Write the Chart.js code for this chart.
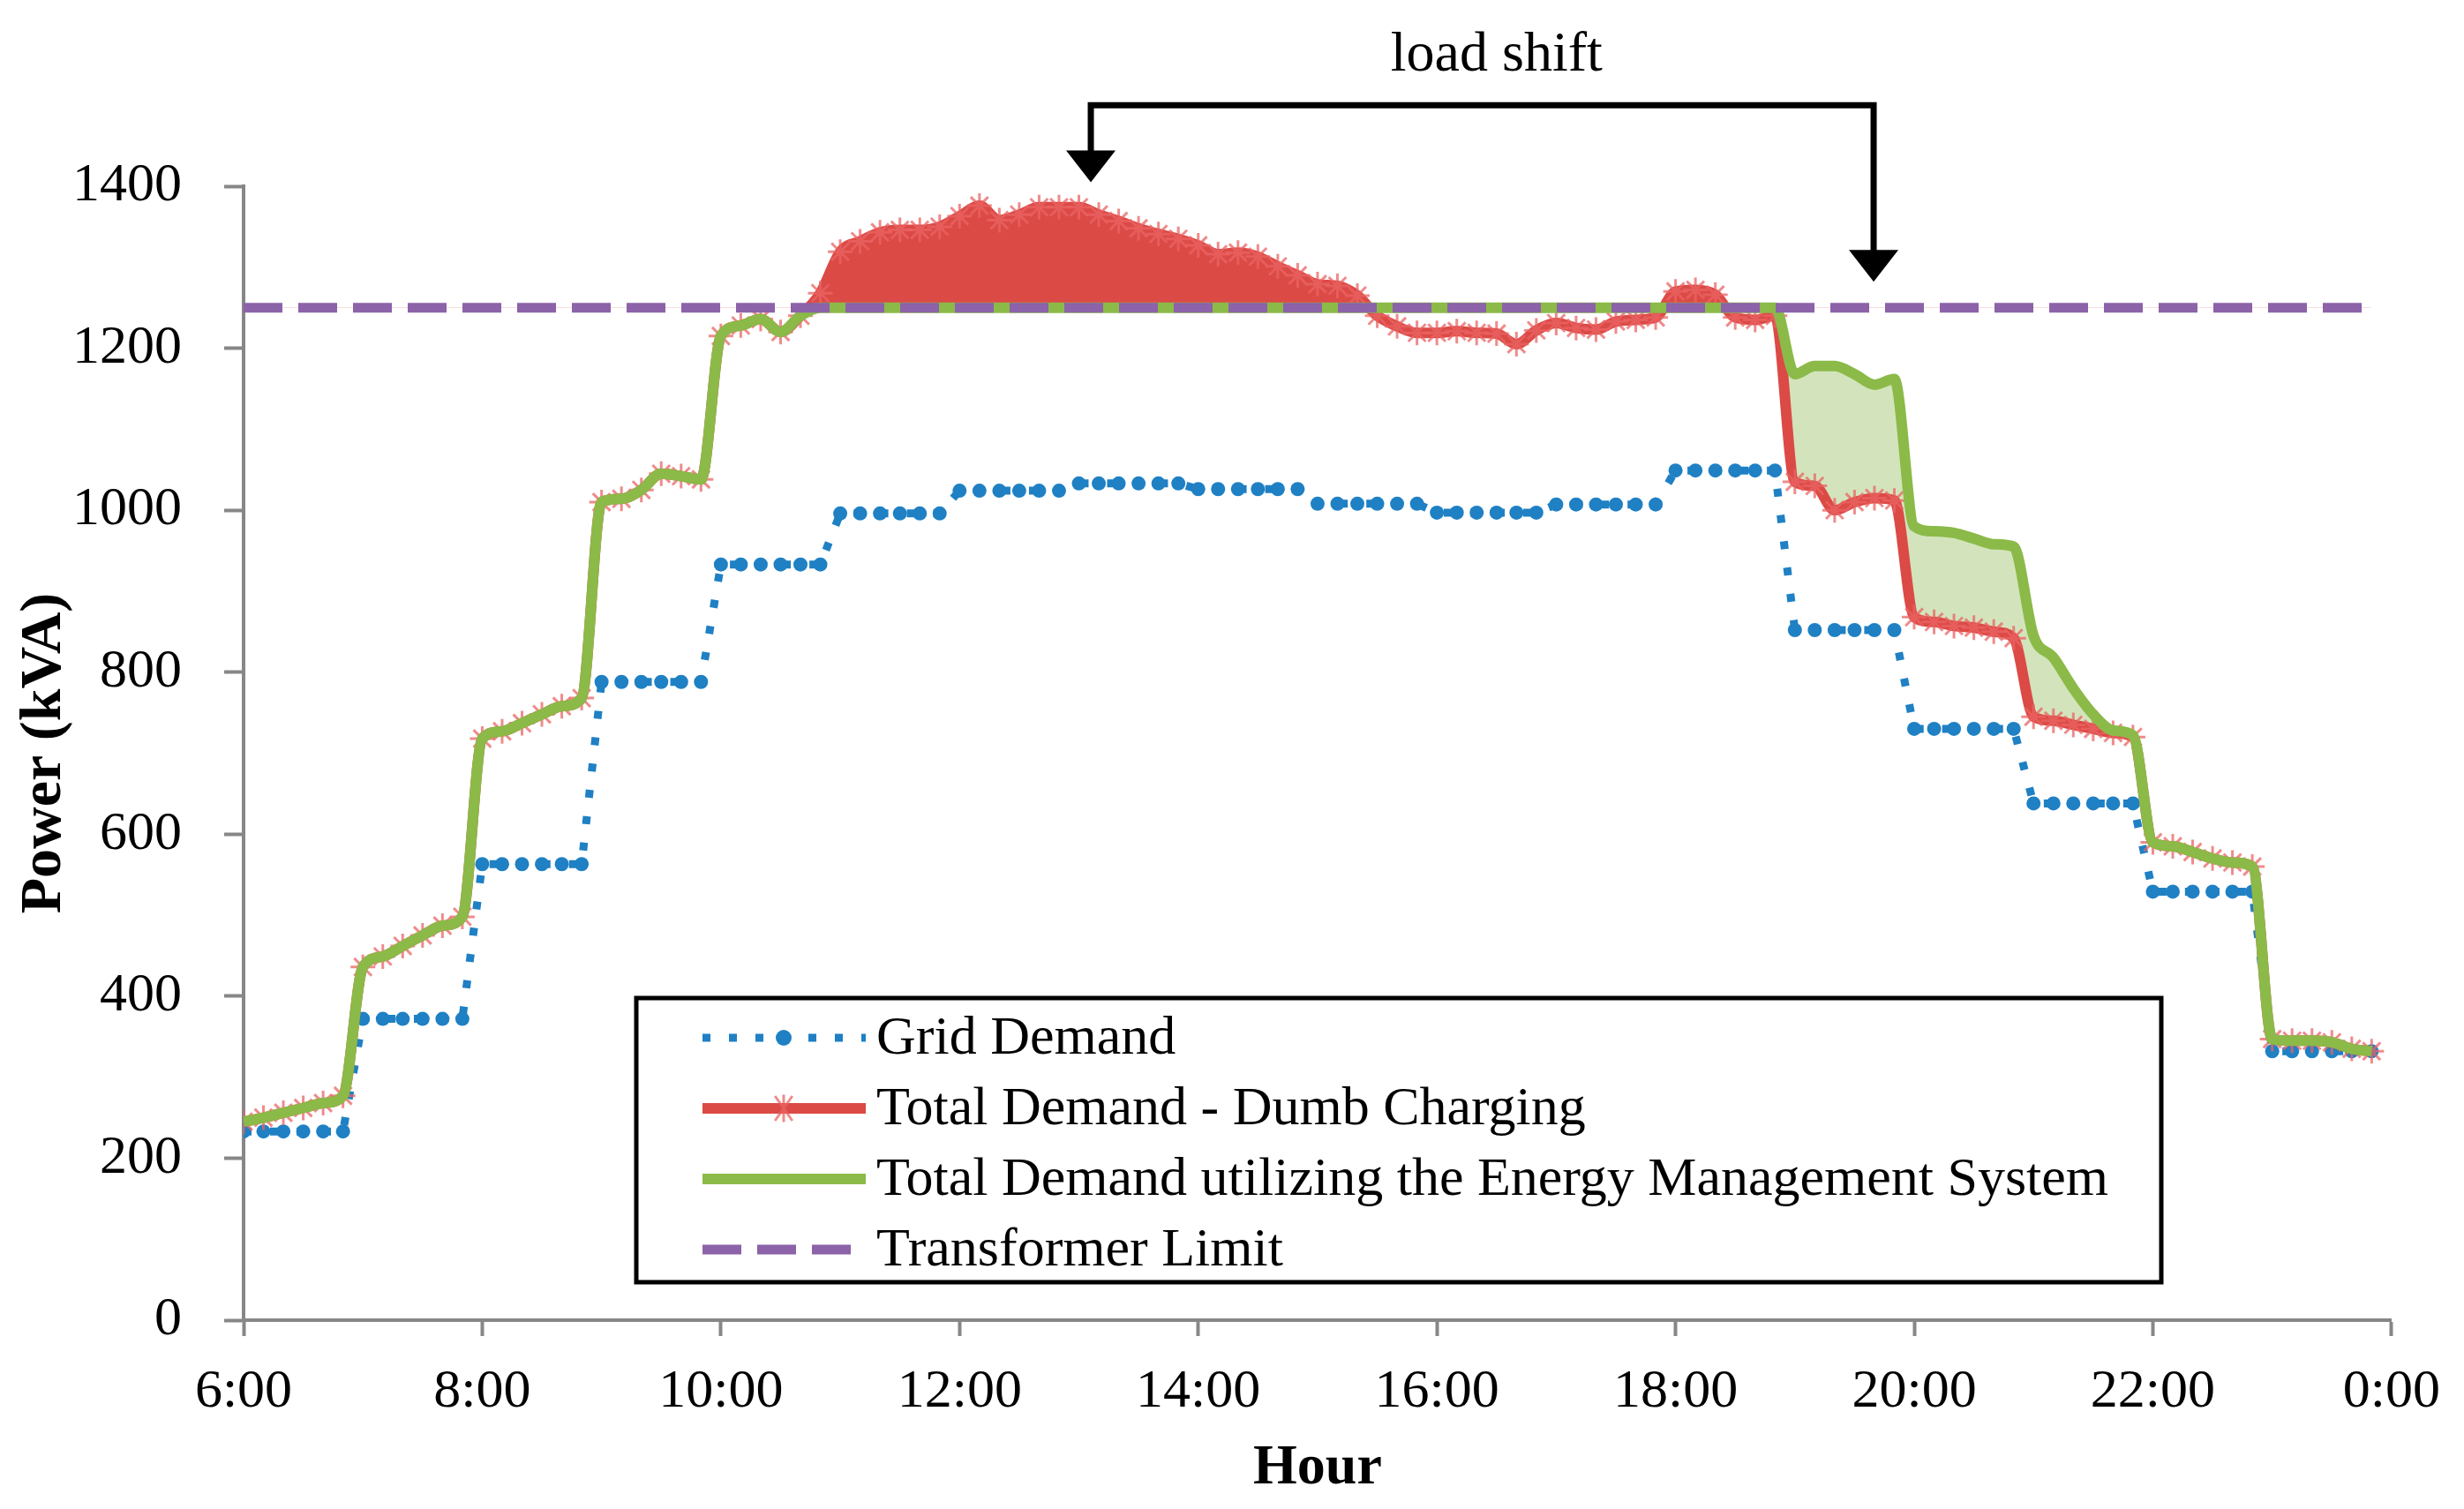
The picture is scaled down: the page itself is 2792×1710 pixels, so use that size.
<!DOCTYPE html>
<html>
<head>
<meta charset="utf-8">
<title>Load shift</title>
<script src="https://cdn.jsdelivr.net/npm/chart.js@4.4.1/dist/chart.umd.min.js"></script>
<style>
  html, body { margin: 0; padding: 0; background: #fff; }
  #wrap { width: 2792px; height: 1710px; }
</style>
</head>
<body>
<div id="wrap"><canvas id="loadChart" width="2792" height="1710"></canvas></div>
<script>
// 10 minute slots, 6:00 .. 23:50
let slotHours = [];
for (let m = 6 * 60; m < 24 * 60; m += 10) slotHours.push(m / 60);

let hourTicks = ['6:00', '8:00', '10:00', '12:00', '14:00', '16:00', '18:00', '20:00', '22:00', '0:00'];
let powerTicks = [0, 200, 400, 600, 800, 1000, 1200, 1400];

let gridDemand = [
  233, 233, 233, 233, 233, 233,
  372, 372, 372, 372, 372, 372,
  563, 563, 563, 563, 563, 563,
  788, 788, 788, 788, 788, 788,
  933, 933, 933, 933, 933, 933,
  996, 996, 996, 996, 996, 996,
  1024, 1024, 1024, 1024, 1024, 1024,
  1033, 1033, 1033, 1033, 1033, 1033,
  1026, 1026, 1026, 1026, 1026, 1026,
  1008, 1008, 1008, 1008, 1008, 1008,
  997, 997, 997, 997, 997, 997,
  1007, 1007, 1007, 1007, 1007, 1007,
  1049, 1049, 1049, 1049, 1049, 1049,
  852, 852, 852, 852, 852, 852,
  730, 730, 730, 730, 730, 730,
  638, 638, 638, 638, 638, 638,
  529, 529, 529, 529, 529, 529,
  332, 332, 332, 332, 332, 332
];

let dumbCharging = [
  245, 250, 256, 262, 268, 277,
  436, 449, 462, 475, 487, 498,
  718, 727, 737, 748, 758, 768,
  1010, 1014, 1025, 1045, 1042, 1038,
  1215, 1228, 1236, 1220, 1240, 1268,
  1319, 1332, 1343, 1346, 1346, 1350,
  1363, 1376, 1358, 1365, 1374, 1374,
  1374, 1365, 1357, 1348, 1341, 1335,
  1327, 1316, 1318, 1313, 1301, 1290,
  1279, 1277, 1265, 1240, 1227, 1219,
  1219, 1221, 1219, 1218, 1205, 1222,
  1231, 1225, 1223, 1233, 1235, 1238,
  1270, 1272, 1266, 1238, 1235, 1240,
  1035, 1030, 1000, 1010, 1015, 1012,
  868, 862, 857, 855, 850, 842,
  745, 740, 735, 730, 725, 720,
  590, 585, 578, 570, 565, 560,
  347, 345, 345, 343, 335, 332
];

let emsDemand = [
  245, 250, 256, 262, 268, 277,
  436, 449, 462, 475, 487, 498,
  718, 727, 737, 748, 758, 768,
  1010, 1014, 1025, 1045, 1042, 1038,
  1215, 1228, 1236, 1220, 1240, 1250,
  1250, 1250, 1250, 1250, 1250, 1250,
  1250, 1250, 1250, 1250, 1250, 1250,
  1250, 1250, 1250, 1250, 1250, 1250,
  1250, 1250, 1250, 1250, 1250, 1250,
  1250, 1250, 1250, 1250, 1250, 1250,
  1250, 1250, 1250, 1250, 1250, 1250,
  1250, 1250, 1250, 1250, 1250, 1250,
  1250, 1250, 1250, 1250, 1250, 1250,
  1168, 1178, 1178, 1168, 1155, 1162,
  980, 974, 972, 965, 958, 955,
  845, 818, 780, 748, 728, 722,
  590, 585, 578, 570, 565, 560,
  347, 345, 345, 343, 335, 332
];

let transformerLimit = 1250;

let seriesNames = ['Grid Demand', 'Total Demand - Dumb Charging',
  'Total Demand utilizing the Energy Management System', 'Transformer Limit'];

// load shift bracket (hours / kVA)
let shiftFrom = 13.1, shiftTo = 19.66;
let bracketLevel = 1500, fromTip = 1405, toTip = 1282;
let shiftText = 'load shift';

let blue = '#1F80C4', red = '#DC4A46', green = '#8BBA48', purple = '#8C62A8';
let starColor = 'rgba(234,100,100,0.75)';
let shiftFill = '#D3E4BC', axisGrey = '#878787';
let serif = '"Liberation Serif", "Times New Roman", serif';
let textSize = 62;

let toPoints = arr => arr.map((v, i) => ({ x: slotHours[i], y: v }));
// only the evening part of the EMS curve gets the green fill
let shiftedPart = emsDemand.map((v, i) => slotHours[i] >= 18.8 ? v : null);

let drawStar = (ctx, x, y, r) => {
  ctx.beginPath();
  ctx.moveTo(x - r * 0.7, y - r); ctx.lineTo(x + r * 0.7, y + r);
  ctx.moveTo(x + r * 0.7, y - r); ctx.lineTo(x - r * 0.7, y + r);
  ctx.moveTo(x, y - r * 1.1); ctx.lineTo(x, y + r * 1.1);
  ctx.stroke();
};

let legendBox = {
  id: 'legendBox',
  afterDraw(chart) {
    let ctx = chart.ctx;
    ctx.save();
    ctx.lineWidth = 5;
    ctx.strokeStyle = '#000';
    ctx.strokeRect(721, 1131, 1728, 322);
    let rows = [1176, 1256, 1336, 1416];
    let x0 = 796, x1 = 981, xm = 888;

    ctx.lineCap = 'butt';
    // grid demand
    ctx.strokeStyle = blue; ctx.lineWidth = 9; ctx.setLineDash([9, 21]);
    ctx.beginPath(); ctx.moveTo(x0, rows[0]); ctx.lineTo(x1, rows[0]); ctx.stroke();
    ctx.setLineDash([]);
    ctx.fillStyle = blue;
    ctx.beginPath(); ctx.arc(xm, rows[0], 9, 0, Math.PI * 2); ctx.fill();
    // dumb charging
    ctx.strokeStyle = red; ctx.lineWidth = 12;
    ctx.beginPath(); ctx.moveTo(x0, rows[1]); ctx.lineTo(x1, rows[1]); ctx.stroke();
    ctx.strokeStyle = starColor; ctx.lineWidth = 3;
    drawStar(ctx, xm, rows[1], 14);
    // EMS
    ctx.strokeStyle = green; ctx.lineWidth = 12;
    ctx.beginPath(); ctx.moveTo(x0, rows[2]); ctx.lineTo(x1, rows[2]); ctx.stroke();
    // limit
    ctx.strokeStyle = purple; ctx.lineWidth = 11; ctx.setLineDash([44, 18]);
    ctx.beginPath(); ctx.moveTo(x0, rows[3]); ctx.lineTo(x1, rows[3]); ctx.stroke();
    ctx.setLineDash([]);

    ctx.fillStyle = '#000';
    ctx.font = textSize + 'px ' + serif;
    ctx.textBaseline = 'middle';
    seriesNames.forEach((name, i) => ctx.fillText(name, 993, rows[i] + 2));
    ctx.restore();
  }
};

let shiftArrow = {
  id: 'shiftArrow',
  afterDraw(chart) {
    let ctx = chart.ctx, sx = chart.scales.x, sy = chart.scales.y;
    let xa = sx.getPixelForValue(shiftFrom), xb = sx.getPixelForValue(shiftTo);
    let yTop = sy.getPixelForValue(bracketLevel);
    let ya = sy.getPixelForValue(fromTip), yb = sy.getPixelForValue(toTip);
    let head = 36, half = 28;
    ctx.save();
    ctx.strokeStyle = '#000'; ctx.fillStyle = '#000';
    ctx.lineWidth = 7; ctx.lineJoin = 'miter';
    ctx.beginPath();
    ctx.moveTo(xa, ya - head + 2);
    ctx.lineTo(xa, yTop);
    ctx.lineTo(xb, yTop);
    ctx.lineTo(xb, yb - head + 2);
    ctx.stroke();
    [[xa, ya], [xb, yb]].forEach(([x, y]) => {
      ctx.beginPath();
      ctx.moveTo(x - half, y - head);
      ctx.lineTo(x + half, y - head);
      ctx.lineTo(x, y);
      ctx.closePath();
      ctx.fill();
    });
    ctx.font = '64px ' + serif;
    ctx.textAlign = 'center';
    ctx.textBaseline = 'middle';
    ctx.fillText(shiftText, sx.getPixelForValue(16.5), sy.getPixelForValue(1561));
    ctx.restore();
  }
};

let ctx = document.getElementById('loadChart');
let loadChart = new Chart(ctx, {
  type: 'line',
  data: {
    datasets: [
      {
        label: seriesNames[0],
        data: toPoints(gridDemand),
        borderColor: blue,
        borderWidth: 9,
        borderDash: [9, 21],
        pointStyle: 'circle',
        pointRadius: 8,
        pointBackgroundColor: blue,
        pointBorderColor: blue,
        pointBorderWidth: 0,
        fill: false,
        order: 4
      },
      {
        label: seriesNames[1],
        data: toPoints(dumbCharging),
        borderColor: red,
        borderWidth: 12,
        cubicInterpolationMode: 'monotone',
        pointStyle: 'star',
        pointRadius: 14,
        pointBorderColor: starColor,
        pointBackgroundColor: starColor,
        pointBorderWidth: 3,
        fill: { target: 3, above: red, below: 'rgba(0,0,0,0)' },
        order: 2
      },
      {
        label: seriesNames[2],
        data: toPoints(emsDemand),
        borderColor: green,
        borderWidth: 12,
        cubicInterpolationMode: 'monotone',
        pointRadius: 0,
        fill: false,
        order: 1
      },
      {
        label: seriesNames[3],
        data: toPoints(slotHours.map(() => transformerLimit)),
        borderColor: purple,
        borderWidth: 11,
        borderDash: [44, 18],
        pointRadius: 0,
        fill: false,
        order: 0
      },
      {
        label: 'shifted',
        data: toPoints(shiftedPart),
        borderWidth: 0,
        borderColor: 'rgba(0,0,0,0)',
        cubicInterpolationMode: 'monotone',
        pointRadius: 0,
        fill: { target: 1, above: shiftFill, below: 'rgba(0,0,0,0)' },
        order: 3
      }
    ]
  },
  options: {
    responsive: false,
    devicePixelRatio: 1,
    animation: false,
    layout: { padding: { top: 211, right: 71, left: 0, bottom: 0 } },
    plugins: {
      legend: { display: false },
      tooltip: { enabled: false }
    },
    scales: {
      x: {
        type: 'linear',
        min: 6,
        max: 24,
        afterBuildTicks: s => { s.ticks = hourTicks.map((t, i) => ({ value: 6 + 2 * i })); },
        afterFit: s => { s.height = 214; },
        ticks: {
          callback: (v, i) => hourTicks[i],
          color: '#000',
          font: { family: serif, size: textSize },
          padding: 27,
          maxRotation: 0,
          autoSkip: false
        },
        grid: { drawOnChartArea: false, drawTicks: true, tickLength: 18, tickColor: axisGrey, tickWidth: 4 },
        border: { display: true, color: axisGrey, width: 4 },
        title: { display: true, text: 'Hour', color: '#000', font: { family: serif, size: 64, weight: 'bold' }, padding: { top: 0, bottom: 7 } }
      },
      y: {
        min: 0,
        max: 1400,
        afterBuildTicks: s => { s.ticks = powerTicks.map(v => ({ value: v })); },
        afterFit: s => { s.width = 276; },
        ticks: {
          callback: v => String(v),
          color: '#000',
          font: { family: serif, size: textSize },
          padding: 48
        },
        grid: { drawOnChartArea: false, drawTicks: true, tickLength: 22, tickColor: axisGrey, tickWidth: 4 },
        border: { display: true, color: axisGrey, width: 4 },
        title: { display: true, text: 'Power (kVA)', color: '#000', font: { family: serif, size: 66, weight: 'bold' }, padding: { top: 11, bottom: 0 } }
      }
    }
  },
  plugins: [legendBox, shiftArrow]
});
</script>
</body>
</html>
